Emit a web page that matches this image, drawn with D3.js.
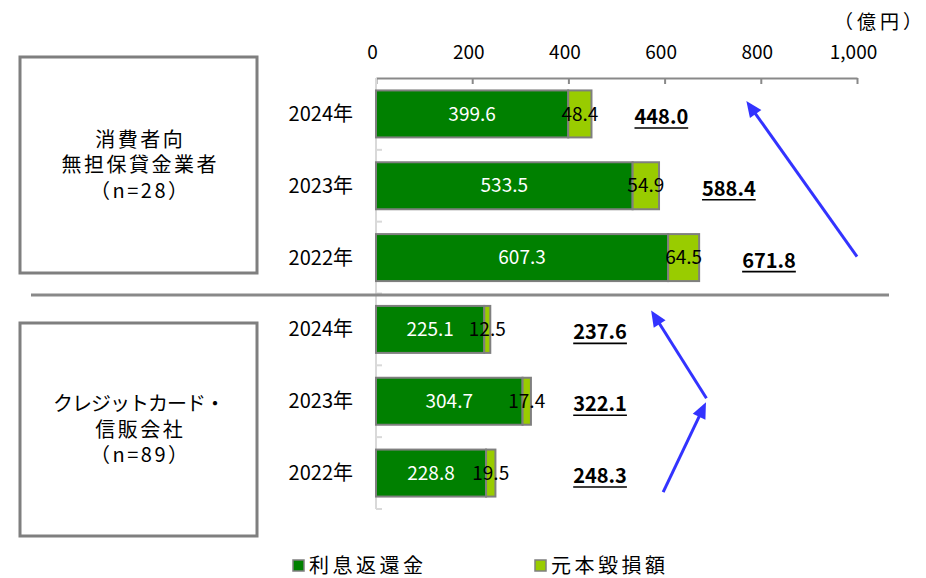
<!DOCTYPE html>
<html lang="ja">
<head>
<meta charset="utf-8">
<script src="https://cdn.jsdelivr.net/npm/d3@7"></script>
<style>
  html, body { margin: 0; padding: 0; background: #fff; }
  svg text { font-family: "Noto Sans CJK JP", "Noto Sans", sans-serif; fill: #000; }
</style>
</head>
<body>
<svg id="chart" width="926" height="578"></svg>
<script>
// 業態別の過払い返還額（利息返還金＋元本毀損額）
const groupNames = [
  ["消費者向", "無担保貸金業者", "（n=28）"],
  ["クレジットカード・", "信販会社", "（n=89）"]
];
const years = ["2024年", "2023年", "2022年"];
const interestRefund = [
  [399.6, 533.5, 607.3],   // 消費者向無担保貸金業者
  [225.1, 304.7, 228.8]    // クレジットカード・信販会社
];
const principalLoss = [
  [48.4, 54.9, 64.5],
  [12.5, 17.4, 19.5]
];
const seriesNames = ["利息返還金", "元本毀損額"];
const axisTicks = [0, 200, 400, 600, 800, 1000];
const unitLabel = "（億円）";

const colors = ["#008000", "#99cc00"];
const barStroke = "#7f7f7f";

const svg = d3.select("#chart");

// one row per (group, year)
const rows = [];
groupNames.forEach((g, gi) => {
  years.forEach((yr, yi) => {
    const a = interestRefund[gi][yi], b = principalLoss[gi][yi];
    rows.push({ key: gi + "-" + yi, gi, yi, year: yr, a, b, total: a + b });
  });
});

const x = d3.scaleLinear().domain([0, 1000]).range([376, 857]);
const y = d3.scaleBand()
  .domain(rows.map(r => r.key))
  .range([78, 509])
  .paddingInner(0.3457)
  .paddingOuter(0.173);
const bw = y.bandwidth();
const cy = k => y(k) + bw / 2;

// top value axis
const xAxis = d3.axisTop(x)
  .tickValues(axisTicks)
  .tickFormat(d3.format(","))
  .tickSizeInner(-6)
  .tickSizeOuter(0)
  .tickPadding(19);
const gx = svg.append("g").attr("transform", "translate(0,78)").call(xAxis);
gx.select(".domain").attr("stroke", "#898989").attr("stroke-width", 2);
gx.selectAll(".tick line").attr("stroke", "#898989").attr("stroke-width", 2);
gx.selectAll(".tick text")
  .attr("font-size", 19)
  .attr("dx", -4)
  .style("font-family", "'Noto Sans CJK JP', sans-serif");

svg.append("text")
  .attr("x", 834).attr("y", 29)
  .attr("font-size", 19)
  .attr("letter-spacing", 4)
  .text(unitLabel);

// category axis (light gray) with boundary ticks
const y0 = y.range()[0], y1 = y.range()[1];
svg.append("line")
  .attr("x1", x(0)).attr("x2", x(0))
  .attr("y1", y0).attr("y2", y1)
  .attr("stroke", "#d9d9d9").attr("stroke-width", 2);
d3.range(1, rows.length + 1).forEach(i => {
  const yy = y0 + i * y.step();
  svg.append("line")
    .attr("x1", x(0)).attr("x2", x(0) + 6)
    .attr("y1", yy).attr("y2", yy)
    .attr("stroke", "#d9d9d9").attr("stroke-width", 2);
});

// separator between the two groups
const sepY = y0 + 3 * y.step() + 1.5;
svg.append("line")
  .attr("x1", 31).attr("x2", 889)
  .attr("y1", sepY).attr("y2", sepY)
  .attr("stroke", "#898989").attr("stroke-width", 3);

// year labels
svg.append("g").selectAll("text").data(rows).join("text")
  .attr("x", 353)
  .attr("y", d => cy(d.key))
  .attr("dy", "0.35em")
  .attr("text-anchor", "end")
  .attr("font-size", 20)
  .text(d => d.year);

// stacked bars
const bars = svg.append("g");
bars.selectAll("rect.a").data(rows).join("rect")
  .attr("class", "a")
  .attr("x", x(0))
  .attr("y", d => y(d.key))
  .attr("width", d => x(d.a) - x(0))
  .attr("height", bw)
  .attr("fill", colors[0])
  .attr("stroke", barStroke).attr("stroke-width", 2);
bars.selectAll("rect.b").data(rows).join("rect")
  .attr("class", "b")
  .attr("x", d => x(d.a))
  .attr("y", d => y(d.key))
  .attr("width", d => x(d.a + d.b) - x(d.a))
  .attr("height", bw)
  .attr("fill", colors[1])
  .attr("stroke", barStroke).attr("stroke-width", 2);

// segment value labels
const fmt = d3.format(".1f");
svg.append("g").selectAll("text").data(rows).join("text")
  .attr("x", d => (x(0) + x(d.a)) / 2)
  .attr("y", d => cy(d.key))
  .attr("dy", "0.35em")
  .attr("text-anchor", "middle")
  .attr("font-size", 19)
  .style("fill", "#fff")
  .text(d => fmt(d.a));
svg.append("g").selectAll("text").data(rows).join("text")
  .attr("x", d => (x(d.a) + x(d.a + d.b)) / 2)
  .attr("y", d => cy(d.key))
  .attr("dy", "0.35em")
  .attr("text-anchor", "middle")
  .attr("font-size", 19)
  .text(d => fmt(d.b));

// totals (bold, underlined)
const totals = svg.append("g").selectAll("g").data(rows).join("g")
  .attr("transform", d => {
    const tx = d.gi === 0 ? x(d.total) + 43 : x(410);
    return `translate(${tx},${cy(d.key) + 3})`;
  });
totals.append("text")
  .attr("dy", "0.35em")
  .attr("font-size", 20)
  .attr("font-weight", "bold")
  .text(d => fmt(d.total));
totals.each(function () {
  const g = d3.select(this);
  const w = g.select("text").node().getComputedTextLength();
  g.append("line")
    .attr("x1", 0).attr("x2", w)
    .attr("y1", 11).attr("y2", 11)
    .attr("stroke", "#000").attr("stroke-width", 1.6);
});

// group boxes on the left
const boxes = [
  { top: 57, bottom: 273 },
  { top: 323, bottom: 536 }
];
const isKana = s => /[ァ-ヶー]/.test(s);
boxes.forEach((b, gi) => {
  svg.append("rect")
    .attr("x", 20).attr("y", b.top)
    .attr("width", 237).attr("height", b.bottom - b.top)
    .attr("fill", "#fff")
    .attr("stroke", "#7f7f7f").attr("stroke-width", 3);
  const mid = (b.top + b.bottom) / 2;
  const lines = groupNames[gi];
  svg.append("g").selectAll("text").data(lines).join("text")
    .attr("x", 139)
    .attr("y", (d, i) => mid + (i - 1) * 25.5)
    .attr("dy", "0.35em")
    .attr("text-anchor", "middle")
    .attr("font-size", 20)
    .attr("letter-spacing", d => isKana(d) ? -1 : 2.5)
    .attr("dx", d => isKana(d) ? -0.5 : 1.25)
    .text(d => d);
});

// trend arrows (value / row anchored)
const arrowColor = "#3333ff";
const arrows = [
  { from: [1000, "0-2", -1], to: [770, "0-0", -13] },
  { from: [687, "1-1", -3], to: [572, "1-0", -19] },
  { from: [597, "1-2", 19], to: [686, "1-1", 1] }
];
arrows.forEach(a => {
  const x1 = x(a.from[0]), y1a = cy(a.from[1]) + a.from[2];
  const x2 = x(a.to[0]), y2a = cy(a.to[1]) + a.to[2];
  const dx = x2 - x1, dy = y2a - y1a, L = Math.hypot(dx, dy);
  const ux = dx / L, uy = dy / L;
  const head = 16, half = 7;
  const bx = x2 - ux * head, by = y2a - uy * head;
  svg.append("line")
    .attr("x1", x1).attr("y1", y1a)
    .attr("x2", bx + ux * 2).attr("y2", by + uy * 2)
    .attr("stroke", arrowColor).attr("stroke-width", 3);
  svg.append("polygon")
    .attr("points", [
      [x2, y2a],
      [bx - uy * half, by + ux * half],
      [bx + uy * half, by - ux * half]
    ].map(p => p.join(",")).join(" "))
    .attr("fill", arrowColor);
});

// legend
const legendX = [293, 535];
seriesNames.forEach((name, i) => {
  const lg = svg.append("g").attr("transform", `translate(${legendX[i]},560)`);
  lg.append("rect")
    .attr("width", 11).attr("height", 11)
    .attr("fill", colors[i])
    .attr("stroke", "#7f7f7f").attr("stroke-width", 1.5);
  lg.append("text")
    .attr("x", 16).attr("y", 5.5)
    .attr("dy", "0.35em")
    .attr("font-size", 20)
    .attr("letter-spacing", 3.5)
    .text(name);
});
</script>
</body>
</html>
